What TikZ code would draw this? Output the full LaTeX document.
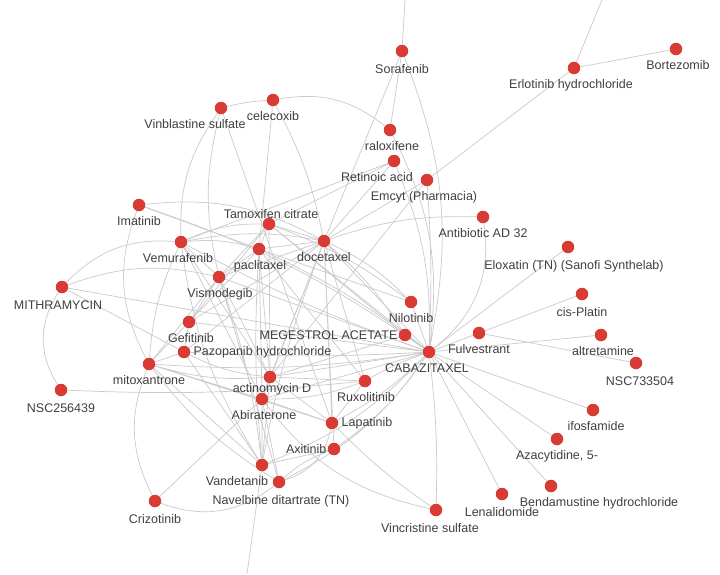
\documentclass[tikz,border=0pt]{standalone}
\usepackage{fontspec}
\newfontfamily\lblfont{Liberation Sans}
\usetikzlibrary{backgrounds}
\definecolor{nodeRed}{RGB}{217,58,52}
\definecolor{edgeGray}{RGB}{202,202,207}
\definecolor{labelCol}{RGB}{64,64,64}
\tikzset{
  drug/.style={circle,fill=nodeRed,minimum size=12.5pt,inner sep=0pt,
    label distance=3pt},
  lbl/.style={font=\lblfont\fontsize{12.5}{14}\selectfont,text=labelCol,
    inner sep=1pt},
  lblb/.style={lbl,yshift=-4pt},
  edge/.style={draw=edgeGray,line width=0.7pt},
}

\begin{document}
\begin{tikzpicture}[x=1pt,y=-1pt]
\useasboundingbox (0,0) rectangle (720,574);

% =====================================================================
%  TOP — Sorafenib, Erlotinib, Bortezomib and the upper drugs
% =====================================================================
\node[drug,label={[lblb,yshift=-2pt]below:Sorafenib}] (sor) at (402,51) {};
\node[drug,label={[lblb,xshift=-3pt]below:Erlotinib hydrochloride}] (erl) at (574,68) {};
\node[drug,label={[lblb,xshift=2pt]below:Bortezomib}] (bor) at (676,49) {};
\node[drug,label={[lblb,xshift=-26pt]below:Vinblastine sulfate}] (vin) at (221,108) {};
\node[drug,label={[lblb]below:celecoxib}] (cel) at (273,100) {};
\node[drug,label={[lblb,xshift=2pt]below:raloxifene}] (ral) at (390,130) {};
\node[drug,label={[lblb,xshift=-17pt]below:Retinoic acid}] (ret) at (394,161) {};
\node[drug,label={[lblb,xshift=-3pt]below:Emcyt (Pharmacia)}] (emc) at (427,180) {};
\node[drug,label={[lblb]below:Antibiotic AD 32}] (ant) at (483,217) {};

% off-canvas ends
\coordinate (topS) at (405,0);
\coordinate (topE) at (602,0);
\coordinate (botV) at (247,574);

% =====================================================================
%  LEFT — taxanes and kinase inhibitors
% =====================================================================
\node[drug,label={[lblb]below:Imatinib}] (ima) at (139,205) {};
\node[drug,label={[lbl,xshift=2pt,yshift=-2pt]above:Tamoxifen citrate}] (tam) at (269,224) {};
\node[drug,label={[lblb,xshift=-3pt]below:Vemurafenib}] (vem) at (181,242) {};
\node[drug,label={[lblb,xshift=1pt]below:paclitaxel}] (pac) at (259,249) {};
\node[drug,label={[lblb]below:docetaxel}] (doc) at (324,241) {};
\node[drug,label={[lblb,xshift=1pt]below:Vismodegib}] (vis) at (219,277) {};
\node[drug,label={[lblb,xshift=-4pt,yshift=-2pt]below:MITHRAMYCIN}] (mit) at (62,287) {};
\node[drug,label={[lblb,xshift=2pt]below:Gefitinib}] (gef) at (189,322) {};
\node[drug,label={[lbl,xshift=2pt]right:Pazopanib hydrochloride}] (paz) at (184,352) {};
\node[drug,label={[lblb]below:mitoxantrone}] (mtx) at (149,364) {};
\node[drug,label={[lblb,yshift=-2pt]below:NSC256439}] (nsc2) at (61,390) {};
\node[drug,label={[lblb,xshift=2pt,yshift=5pt]below:actinomycin D}] (act) at (270,377) {};
\node[drug,label={[lblb,xshift=2pt]below:Abiraterone}] (abi) at (262,399) {};
\node[drug,label={[lblb,yshift=-2pt]below:Crizotinib}] (crz) at (155,501) {};
\node[drug,label={[lblb,xshift=-25pt]below:Vandetanib}] (van) at (262,465) {};
\node[drug,label={[lblb,xshift=2pt,yshift=-2pt]below:Navelbine ditartrate (TN)}] (nav) at (279,482) {};

% =====================================================================
%  CENTRE — CABAZITAXEL and its neighbours
% =====================================================================
\node[drug,label={[lblb]below:Nilotinib}] (nil) at (411,302) {};
\node[drug,label={[lbl]left:MEGESTROL ACETATE}] (meg) at (405,335) {};
\node[drug,label={[lblb,xshift=-2pt]below:CABAZITAXEL}] (cab) at (429,352) {};
\node[drug,label={[lblb,xshift=1pt]below:Ruxolitinib}] (rux) at (365,381) {};
\node[drug,label={[lbl,xshift=2pt]right:Lapatinib}] (lap) at (332,423) {};
\node[drug,label={[lbl]left:Axitinib}] (axi) at (334,449) {};

% =====================================================================
%  RIGHT — single-link drugs
% =====================================================================
\node[drug,label={[lblb,xshift=6pt,yshift=-2pt]below:Eloxatin (TN) (Sanofi Synthelab)}] (elo) at (568,247) {};
\node[drug,label={[lblb,yshift=-2pt]below:cis-Platin}] (cis) at (582,294) {};
\node[drug,label={[lblb]below:Fulvestrant}] (ful) at (479,333) {};
\node[drug,label={[lblb,xshift=2pt]below:altretamine}] (alt) at (601,335) {};
\node[drug,label={[lblb,xshift=4pt,yshift=-2pt]below:NSC733504}] (nsc7) at (636,363) {};
\node[drug,label={[lblb,xshift=3pt]below:ifosfamide}] (ifo) at (593,410) {};
\node[drug,label={[lblb]below:{Azacytidine, 5-}}] (aza) at (557,439) {};
\node[drug,label={[lblb,xshift=48pt]below:Bendamustine hydrochloride}] (ben) at (551,486) {};
\node[drug,label={[lblb,yshift=-2pt]below:Lenalidomide}] (len) at (502,494) {};
\node[drug,label={[lblb,xshift=-6pt,yshift=-2pt]below:Vincristine sulfate}] (vcr) at (436,510) {};

% =====================================================================
%  EDGES
% =====================================================================
\begin{scope}[on background layer]
  \fill[white] (0,0) rectangle (720,574);

  % CABAZITAXEL hub
  \draw[edge] (cab) -- (meg) (cab) -- (nil) (cab) -- (ful) (cab) -- (alt)
    (cab) -- (cis) (cab) -- (elo) (cab) -- (ifo) (cab) -- (aza)
    (cab) -- (ben) (cab) -- (len) (ful) -- (nsc7);
  \draw[edge] (cab) to[bend left=4] (vcr);
  \draw[edge] (cab) -- (doc) (cab) -- (tam) (cab) -- (vis) (cab) -- (gef)
    (cab) -- (act) (cab) -- (abi) (cab) -- (mit);
  \draw[edge] (cab) to[bend right=6] (pac) (cab) to[bend left=4] (vem)
    (cab) to[bend left=3] (paz) (cab) to[bend left=6] (mtx)
    (cab) to[bend right=5] (rux) (cab) to[bend left=8] (lap)
    (cab) to[bend left=10] (axi) (cab) to[bend left=12] (van)
    (cab) to[bend left=14] (nav) (cab) to[bend right=8] (ima);

  % from the top
  \draw[edge] (sor) -- (topS) (erl) -- (topE) (erl) -- (bor) (erl) -- (emc)
    (sor) -- (ral) (sor) -- (doc);
  \draw[edge] (sor) to[bend left=16] (cab) (ral) to[bend left=17] (cab)
    (ret) to[bend left=12] (cab) (emc) to[bend left=3] (cab)
    (ant) to[bend left=30] (cab);

  % docetaxel hub
  \draw[edge] (doc) -- (ret) (doc) -- (emc) (doc) -- (tam) (doc) -- (pac)
    (doc) -- (vis) (doc) -- (gef) (doc) -- (paz) (doc) -- (act)
    (doc) -- (abi) (doc) -- (lap) (doc) -- (axi) (doc) -- (rux);
  \draw[edge] (doc) to[bend right=8] (cel) (doc) to[bend right=10] (vem)
    (doc) to[bend left=8] (meg) (doc) to[bend left=10] (nil)
    (doc) to[bend right=5] (van) (doc) to[bend left=10] (ant);

  % upper left
  \draw[edge] (vin) to[bend left=5] (cel) (cel) to[bend left=24] (ral)
    (vin) to[bend right=18] (vem) (vin) to[bend right=13] (vis);
  \draw[edge] (cel) -- (pac) (vin) -- (lap) (ret) -- (tam) (ret) -- (vem)
    (emc) -- (act);
  \draw[edge] (ima) -- (pac) (ima) to[bend left=17] (doc)
    (ima) to[bend right=24] (mtx);
  \draw[edge] (mit) to[bend left=25] (vem) (mit) to[bend left=16] (vis)
    (mit) -- (paz) (mit) to[bend right=33] (nsc2)
    (nsc2) to[bend right=4] (rux);

  % central left cluster
  \draw[edge] (vem) -- (vis) (vem) -- (act) (vem) -- (abi)
    (vem) to[bend left=10] (pac) (vem) to[bend left=12] (tam)
    (vem) to[bend right=10] (mtx) (vem) to[bend right=12] (van);
  \draw[edge] (vis) -- (pac) (vis) -- (tam) (vis) -- (gef) (vis) -- (mtx)
    (vis) -- (act) (vis) -- (nav) (vis) to[bend left=6] (van);
  \draw[edge] (pac) -- (tam) (pac) -- (act) (pac) -- (abi) (pac) -- (gef)
    (pac) -- (nil) (pac) -- (rux) (pac) to[bend right=4] (van);
  \draw[edge] (tam) -- (meg) (tam) -- (gef) (tam) -- (act)
    (tam) to[bend left=8] (nil);
  \draw[edge] (gef) -- (mtx) (gef) -- (paz) (paz) -- (mtx) (paz) -- (van)
    (paz) to[bend right=10] (act);
  \draw[edge] (mtx) -- (abi) (mtx) -- (van) (mtx) -- (lap)
    (mtx) to[bend right=10] (act) (mtx) to[bend right=10] (nav);
  \draw[edge] (crz) to[bend left=24] (mtx) (crz) -- (abi)
    (crz) to[bend right=29] (nav);

  % lower centre
  \draw[edge] (act) -- (abi) (act) -- (rux) (act) -- (meg) (act) -- (van)
    (act) -- (lap);
  \draw[edge] (abi) -- (lap) (abi) -- (van) (abi) -- (nav)
    (abi) to[bend right=10] (rux) (abi) to[bend right=20] (vcr);
  \draw[edge] (van) -- (axi) (van) -- (botV) (nav) to[bend left=10] (axi)
    (nav) to[bend right=30] (lap) (lap) to[bend right=5] (vcr)
    (lap) -- (rux);
\end{scope}

\end{tikzpicture}
\end{document}
